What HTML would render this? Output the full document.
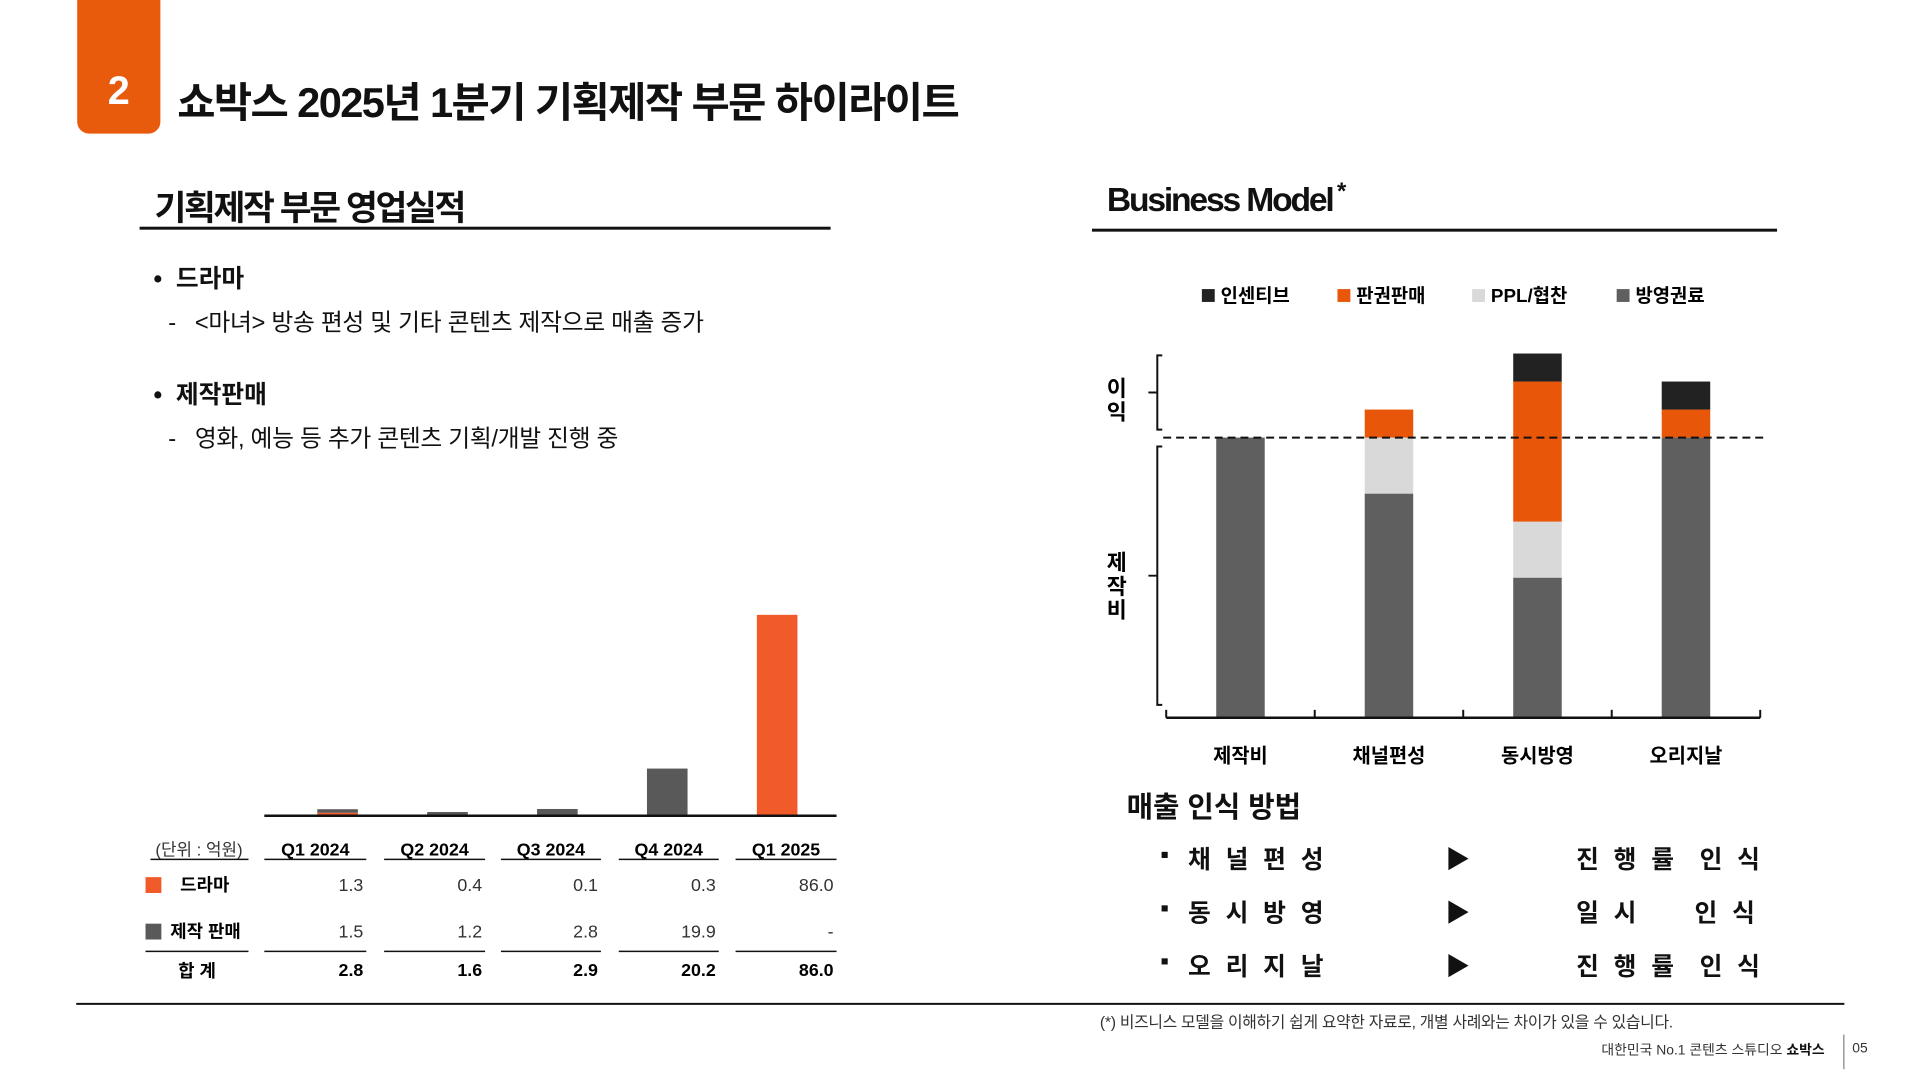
<!DOCTYPE html>
<html><head><meta charset="utf-8">
<style>
*{margin:0;padding:0;box-sizing:border-box}
body{width:1920px;height:1080px;background:#fff;position:relative;overflow:hidden;font-family:"Liberation Sans","Noto Sans CJK KR",sans-serif;color:#111}
#wrap{position:absolute;left:0;top:0;width:1940px;height:1092px;transform:scale(0.99);transform-origin:0 0}
.a{position:absolute;white-space:nowrap}
.b{font-weight:bold}
</style></head><body>
<div id="wrap">
<div class="a" style="left:78px;top:0;width:84px;height:135px;background:#E85A0C;border-radius:0 0 12px 12px"></div>
<div class="a b" style="left:78px;top:70px;width:84px;text-align:center;color:#fff;font-size:40px">2</div>
<div class="a b" style="left:179px;top:70px;font-size:42px;letter-spacing:-1.6px">쇼박스 2025년 1분기 기획제작 부문 하이라이트</div>

<div class="a b" style="left:156px;top:182px;font-size:35px;letter-spacing:-2.4px">기획제작 부문 영업실적</div>
<div class="a" style="left:141px;top:229px;width:698px;height:3px;background:#111"></div>
<div class="a b" style="left:1118px;top:180px;font-size:34px;letter-spacing:-2.2px">Business Model<sup style="font-size:24px"> *</sup></div>
<div class="a" style="left:1103px;top:231px;width:692px;height:3px;background:#111"></div>

<div class="a b" style="left:155px;top:262px;font-size:25px">•&nbsp;&nbsp;드라마</div>
<div class="a" style="left:170px;top:306px;font-size:24px;letter-spacing:-0.3px">-&nbsp;&nbsp;&nbsp;&lt;마녀&gt; 방송 편성 및 기타 콘텐츠 제작으로 매출 증가</div>
<div class="a b" style="left:155px;top:379px;font-size:25px">•&nbsp;&nbsp;제작판매</div>
<div class="a" style="left:170px;top:423px;font-size:24px;letter-spacing:-0.3px">-&nbsp;&nbsp;&nbsp;영화, 예능 등 추가 콘텐츠 기획/개발 진행 중</div>

<svg id="chart" class="a" style="left:0;top:0" width="1940" height="1092"></svg>

<div class="a b" style="left:1138px;top:792px;font-size:29px">매출 인식 방법</div>

<div class="a" style="left:77px;top:1013px;width:1786px;height:2px;background:#111"></div>
<div class="a" style="left:1111px;top:1019px;font-size:16px;color:#333;letter-spacing:-0.3px">(*) 비즈니스 모델을 이해하기 쉽게 요약한 자료로, 개별 사례와는 차이가 있을 수 있습니다.</div>
<div class="a" style="right:97px;top:1050px;font-size:14px;color:#333">대한민국 No.1 콘텐츠 스튜디오 <b style="color:#111">쇼박스</b></div>
<div class="a" style="left:1862px;top:1045px;width:1px;height:35px;background:#666"></div>
<div class="a" style="left:1871px;top:1050px;font-size:14px;color:#333">05</div>
</div>

<script>
// Left chart data
const quarters=["Q1 2024","Q2 2024","Q3 2024","Q4 2024","Q1 2025"];
const dramaVals=[1.3,0.4,0.1,0.3,86.0];
const prodVals=[1.5,1.2,2.8,19.9,0];
const dramaLabels=["1.3","0.4","0.1","0.3","86.0"];
const prodLabels=["1.5","1.2","2.8","19.9","-"];
const totalLabels=["2.8","1.6","2.9","20.2","86.0"];
// Right chart data
const bmCats=["제작비","채널편성","동시방영","오리지날"];
const bmSeries=["방영권료","PPL/협찬","판권판매","인센티브"];
const bmBroadcast=[10,8,5,10];
const bmPPL=[0,2,2,0];
const bmLicense=[0,1,5,1];
const bmIncentive=[0,0,1,1];
const bmCost=10;
// Methods
const methodNames=["채 널 편 성","동 시 방 영","오 리 지 날"];
const methodResults=["진 행 률&nbsp;&nbsp;인 식","일 시&nbsp;&nbsp;&nbsp;&nbsp;&nbsp;인 식","진 행 률&nbsp;&nbsp;인 식"];

const NS="http://www.w3.org/2000/svg";
const svg=document.getElementById('chart');
function mk(tag,attrs,name,txt){const e=document.createElementNS(NS,tag);for(const k in attrs)e.setAttribute(k,attrs[k]);


if(txt!==undefined)e.textContent=txt;svg.appendChild(e);return e;}

// ---- left chart ----
const L0=267,L1=845,base=824;
const yL=v=>v*2.36;
const xL=i=>341+111*i;
quarters.forEach((q,i)=>{
  const cx=xL(i), bw=41;
  const hd=yL(dramaVals[i]), hp=yL(prodVals[i]);
  mk('rect',{x:cx-bw/2,y:base-hd,width:bw,height:hd,fill:'#F15A29'},'bar-drama-'+i);
  mk('rect',{x:cx-bw/2,y:base-hd-hp,width:bw,height:hp,fill:'#595959'},'bar-production-'+i);
});
mk('line',{x1:L0,y1:base,x2:L1,y2:base,stroke:'#111','stroke-width':2.5},'x-axis');
const colL=[267,388,506,625,743], colR=[370,490,607,726,845];
mk('text',{x:201,y:864,'text-anchor':'middle','font-size':17,fill:'#333'},'unit-label','(단위 : 억원)');
mk('line',{x1:152,y1:868,x2:251,y2:868,stroke:'#111','stroke-width':1.5},'header-rule-unit');
mk('line',{x1:147,y1:961,x2:251,y2:961,stroke:'#111','stroke-width':1.5},'total-rule-unit');
quarters.forEach((q,i)=>{
  mk('text',{x:(colL[i]+colR[i])/2,y:864,'text-anchor':'middle','font-size':18,'font-weight':'bold'},'header-'+i,q);
  mk('line',{x1:colL[i],y1:868,x2:colR[i],y2:868,stroke:'#111','stroke-width':1.5},'header-rule-'+i);
  mk('line',{x1:colL[i],y1:961,x2:colR[i],y2:961,stroke:'#111','stroke-width':1.5},'total-rule-'+i);
  mk('text',{x:colR[i]-3,y:900,'text-anchor':'end','font-size':18,fill:'#333'},'drama-value-'+i,dramaLabels[i]);
  mk('text',{x:colR[i]-3,y:947,'text-anchor':'end','font-size':18,fill:'#333'},'production-value-'+i,prodLabels[i]);
  mk('text',{x:colR[i]-3,y:986,'text-anchor':'end','font-size':18,'font-weight':'bold'},'total-value-'+i,totalLabels[i]);
});
mk('rect',{x:147,y:886,width:16,height:16,fill:'#F15A29'},'legend-drama-swatch');
mk('text',{x:182,y:900,'font-size':18,'font-weight':'bold'},'legend-drama','드라마');
mk('rect',{x:147,y:933,width:16,height:16,fill:'#595959'},'legend-production-swatch');
mk('text',{x:172,y:947,'font-size':18,'font-weight':'bold'},'legend-production','제작 판매');
mk('text',{x:199,y:987,'text-anchor':'middle','font-size':18,'font-weight':'bold'},'total-label','합 계');

// ---- right chart ----
const R0=1178,R1=1778,rb=725,unit=28.3,bw2=49;
const yR=v=>rb-v*unit;
const xR=i=>R0+(R1-R0)/4*(i+0.5);
const colors=['#5F5F5F','#D9D9D9','#E8560A','#222222'];
const series=[bmBroadcast,bmPPL,bmLicense,bmIncentive];
const names=['broadcast','ppl','license','incentive'];
bmCats.forEach((c,i)=>{
  let acc=0;
  series.forEach((s,k)=>{ if(s[i]>0){mk('rect',{x:xR(i)-bw2/2,y:yR(acc+s[i]),width:bw2,height:s[i]*unit,fill:colors[k]},'bar-'+names[k]+'-'+i);} acc+=s[i];});
  mk('text',{x:xR(i),y:770,'text-anchor':'middle','font-size':20,'font-weight':'bold'},'category-'+i,c);
});
mk('line',{x1:R0,y1:rb,x2:R1,y2:rb,stroke:'#111','stroke-width':2.5},'bm-x-axis');
for(let t=0;t<=4;t++){const x=R0+(R1-R0)/4*t;mk('line',{x1:x,y1:rb,x2:x,y2:rb-8,stroke:'#111','stroke-width':2},'bm-tick-'+t);}
mk('line',{x1:1175,y1:yR(bmCost),x2:1782,y2:yR(bmCost),stroke:'#111','stroke-width':2,'stroke-dasharray':'8,5'},'cost-dashed-line');
function bracket(y1,y2,name){const m=(y1+y2)/2;
 mk('path',{d:`M1174 ${y1} H1169 V${y2} H1174 M1169 ${m} H1160`,fill:'none',stroke:'#111','stroke-width':2},name);}
bracket(359,434,'profit-bracket');bracket(451,712,'cost-bracket');
['이','익'].forEach((ch,j)=>mk('text',{x:1128,y:400+j*24,'text-anchor':'middle','font-size':22,'font-weight':'bold'},'profit-label-'+j,ch));
['제','작','비'].forEach((ch,j)=>mk('text',{x:1128,y:576+j*24,'text-anchor':'middle','font-size':22,'font-weight':'bold'},'cost-label-'+j,ch));
const legX=[1214,1351,1487,1633],legOrder=[3,2,1,0];
legOrder.forEach((k,j)=>{
  mk('rect',{x:legX[j],y:292,width:13,height:13,fill:colors[k]},'legend-swatch-'+names[k]);
  mk('text',{x:legX[j]+19,y:305,'font-size':19,'font-weight':'bold'},'legend-'+names[k],bmSeries[k]);
});

const mc=document.getElementById('wrap');
methodNames.forEach((n,i)=>{
  const y=849+i*54;
  const d=document.createElement('div');d.className='a b';d.style.cssText=`left:1172px;top:${y}px;font-size:25px`;d.innerHTML='▪';
  
  mc.appendChild(d);
  const a=document.createElement('div');a.className='a b';a.style.cssText=`left:1200px;top:${y}px;font-size:25px;letter-spacing:4px`;a.textContent=n;
  
  mc.appendChild(a);
  const r=document.createElement('div');r.className='a';r.style.cssText=`left:1460px;top:${y}px;font-size:25px`;r.textContent='▶';
  
  mc.appendChild(r);
  const b=document.createElement('div');b.className='a b';b.style.cssText=`left:1592px;top:${y}px;font-size:25px;letter-spacing:4px`;b.innerHTML=methodResults[i];
  
  mc.appendChild(b);
});
</script>
</body></html>
